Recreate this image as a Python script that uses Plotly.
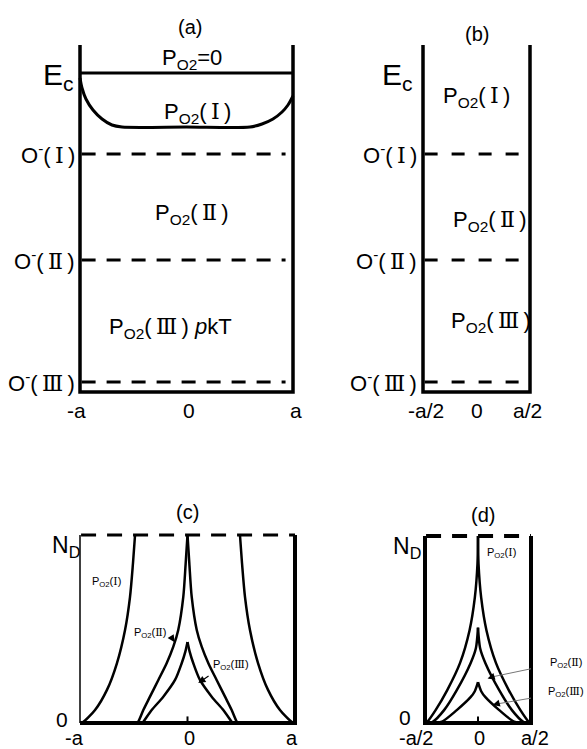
import plotly.graph_objects as go

W, H = 587, 749

# ---------------- data ----------------
# (a)/(b) band diagram, energies in arbitrary units (Ec = 0)
Ec = 0.0
wall_top = 0.28
wall_bottom = -3.19
level_labels = ["Ⅰ", "Ⅱ", "Ⅲ"]
level_E = [-0.81, -1.87, -3.09]

# (a) band bending for P_O2(I), x in units of a
bend_x = [-1.0, -0.981, -0.944, -0.878, -0.793, -0.700, -0.606, 0.0,
          0.596, 0.709, 0.812, 0.897, 0.953, 1.0]
bend_E = [-0.05, -0.15, -0.26, -0.37, -0.46, -0.52, -0.54, -0.54,
          -0.54, -0.51, -0.46, -0.39, -0.32, -0.23]

# (c) donor profiles, N/N_D vs x (units of a); left branches, mirrored to the right
c_I_x = [-1.0, -0.972, -0.860, -0.749, -0.656, -0.581, -0.535, -0.507, -0.488]
c_I_y = [0.0, 0.005, 0.069, 0.176, 0.319, 0.495, 0.670, 0.851, 1.0]
c_II_x = [-0.47, -0.458, -0.411, -0.349, -0.271, -0.194, -0.132, -0.086, -0.039, -0.017, 0.0]
c_II_y = [0.0, 0.007, 0.069, 0.14, 0.229, 0.318, 0.406, 0.495, 0.672, 0.849, 1.0]
c_III_x = [-0.42, -0.411, -0.333, -0.225, -0.116, -0.054, -0.02, 0.0]
c_III_y = [0.0, 0.006, 0.069, 0.14, 0.229, 0.318, 0.38, 0.431]

# (d) donor profiles
d_I_x = [-0.49, -0.48, -0.40, -0.29, -0.17, -0.08, -0.03, -0.005, 0.0]
d_I_y = [0.0, 0.005, 0.069, 0.176, 0.32, 0.495, 0.67, 0.85, 1.0]
d_II_x = [-0.46, -0.43, -0.32, -0.20, -0.07, -0.02, 0.0]
d_II_y = [0.0, 0.005, 0.069, 0.176, 0.32, 0.40, 0.51]
d_III_x = [-0.41, -0.34, -0.20, -0.07, -0.03, 0.0]
d_III_y = [0.0, 0.007, 0.069, 0.138, 0.17, 0.218]

x_ticks_full = ["-a", "0", "a"]
x_ticks_half = ["-a/2", "0", "a/2"]

# ---------------- helpers ----------------
FONT = "Arial, Liberation Sans, sans-serif"
SP = "\u2009"


def rn(s, sp=SP):
    return f'{sp}<span style="font-family:DejaVu Serif">{s}</span>{sp}'


def lin(v1, p1, v2, p2):
    return lambda p: v1 + (p - p1) * (v2 - v1) / (p2 - p1)


fig = go.Figure()

panels = {
    # name: (box px0, px1, py0, py1), xmap, ymap
    "a": ((0, 335, 0, 430), (-1, 80, 1, 293), (0.0, 73, -3.09, 382)),
    "b": ((335, 587, 0, 430), (-0.5, 423, 0.5, 530), (0.0, 73, -3.09, 382)),
    "c": ((0, 335, 480, 749), (-1, 80, 1, 295), (0.0, 723, 1.0, 535)),
    "d": ((335, 587, 480, 749), (-0.5, 425, 0.5, 531), (0.0, 723, 1.0, 536)),
}
refs = {}
for i, (k, (box, xm, ym)) in enumerate(panels.items()):
    n = "" if i == 0 else str(i + 1)
    px0, px1, py0, py1 = box
    fx = lin(*xm)
    fy = lin(*ym)
    fig.layout["xaxis" + n] = dict(domain=[px0 / W, px1 / W], range=[fx(px0), fx(px1)],
                                   visible=False, fixedrange=True, anchor="y" + n)
    fig.layout["yaxis" + n] = dict(domain=[1 - py1 / H, 1 - py0 / H], range=[fy(py1), fy(py0)],
                                   visible=False, fixedrange=True, anchor="x" + n)
    refs[k] = ("x" + n, "y" + n)


def line(panel, xs, ys, width=3, dash=None, color="black", shape="linear"):
    xr, yr = refs[panel]
    fig.add_trace(go.Scatter(x=xs, y=ys, mode="lines", xaxis=xr, yaxis=yr,
                             line=dict(color=color, width=width, dash=dash, shape=shape,
                                       smoothing=0.8),
                             hoverinfo="skip", showlegend=False))


def text(panel, x, y, s, size, xanchor="center", yanchor="middle"):
    xr, yr = refs[panel]
    fig.add_annotation(x=x, y=y, xref=xr, yref=yr, text=s, showarrow=False,
                       xanchor=xanchor, yanchor=yanchor,
                       font=dict(size=size, color="black", family=FONT))


def arrow(panel, x, y, ax, ay, color="black", width=1.2):
    xr, yr = refs[panel]
    fig.add_annotation(x=x, y=y, ax=ax, ay=ay, xref=xr, yref=yr, axref=xr, ayref=yr,
                       text="", showarrow=True, arrowhead=2, arrowsize=1.2,
                       arrowwidth=width, arrowcolor=color, standoff=0)


PO2 = "P<sub>O2</sub>"

# ---------------- (a) ----------------
line("a", [-1, -1, 1, 1], [wall_top, wall_bottom, wall_bottom, wall_top], width=3.5)
line("a", [-1, 1], [Ec, Ec], width=3)
line("a", bend_x, bend_E, width=3, shape="spline")
for lab, e in zip(level_labels, level_E):
    line("a", [-0.985, 0.93], [e, e], width=3, dash="14px,11px")
    text("a", -1.03, e, f"O<sup>-</sup>({rn(lab)})", 22, xanchor="right")
text("a", 0.03, 0.46, "(a)", 20)
text("a", -1.04, -0.03, "E<sub>c</sub>", 30, xanchor="right")
text("a", 0.05, 0.14, f"{PO2}=0", 22)
text("a", 0.1, -0.40, f"{PO2}({rn('Ⅰ')})", 22)
text("a", 0.05, -1.41, f"{PO2}({rn('Ⅱ')})", 22)
text("a", -0.15, -2.55, f"{PO2}({rn('Ⅲ')}) <i>p</i>kT", 22)
for t, xv in zip(x_ticks_full, [-1.03, 0.02, 1.03]):
    text("a", xv, -3.37, t, 21)

# ---------------- (b) ----------------
line("b", [-0.5, -0.5, 0.5, 0.5], [wall_top, wall_bottom, wall_bottom, wall_top], width=3.5)
for lab, e in zip(level_labels, level_E):
    line("b", [-0.485, 0.41], [e, e], width=3, dash="13px,14px")
    text("b", -0.54, e, f"O<sup>-</sup>({rn(lab)})", 22, xanchor="right")
text("b", 0.0, 0.39, "(b)", 20)
text("b", -0.575, -0.03, "E<sub>c</sub>", 30, xanchor="right")
text("b", 0.0, -0.24, f"{PO2}({rn('Ⅰ')})", 22)
text("b", 0.13, -1.48, f"{PO2}({rn('Ⅱ')})", 22)
text("b", 0.14, -2.49, f"{PO2}({rn('Ⅲ')})", 22)
for t, xv in zip(x_ticks_half, [-0.47, 0.0, 0.48]):
    text("b", xv, -3.37, t, 21)

# ---------------- (c) ----------------
line("c", [-1, -1], [0, 1], width=1.5)
line("c", [-1, 1, 1], [0, 0, 1], width=4)
line("c", [-0.99, 1], [1, 1], width=3, dash="15px,11px")
line("c", [0, 0], [0, 0.035], width=2)
for xs, ys in [(c_I_x, c_I_y), (c_II_x, c_II_y), (c_III_x, c_III_y)]:
    line("c", xs, ys, width=2.5, shape="spline")
    line("c", [-v for v in xs], ys, width=2.5, shape="spline")
text("c", 0.0, 1.12, "(c)", 20)
text("c", -0.98, 0.94, "N<sub>D</sub>", 23, xanchor="right")
text("c", -1.17, 0.02, "0", 21)
for t, xv in zip(x_ticks_full, [-1.05, 0.02, 0.97]):
    text("c", xv, -0.08, t, 20)
text("c", -0.75, 0.75, f"{PO2}({rn('Ⅰ', '')})", 11)
text("c", -0.35, 0.48, f"{PO2}({rn('Ⅱ', '')})", 11)
text("c", 0.40, 0.31, f"{PO2}({rn('Ⅲ', '')})", 11)
arrow("c", -0.12, 0.43, -0.16, 0.465)
arrow("c", 0.10, 0.213, 0.21, 0.255)

# ---------------- (d) ----------------
line("d", [-0.5, -0.5, 0.5, 0.5], [1, 0, 0, 1], width=4)
line("d", [-0.49, 0.5], [1, 1], width=4, dash="15px,11px")
line("d", [0, 0], [0, 0.035], width=2)
for xs, ys in [(d_I_x, d_I_y), (d_II_x, d_II_y), (d_III_x, d_III_y)]:
    line("d", xs, ys, width=2.5, shape="spline")
    line("d", [-v for v in xs], ys, width=2.5, shape="spline")
text("d", 0.05, 1.11, "(d)", 20)
text("d", -0.52, 0.94, "N<sub>D</sub>", 23, xanchor="right")
text("d", -0.69, 0.03, "0", 21)
for t, xv in zip(x_ticks_half, [-0.585, 0.01, 0.54]):
    text("d", xv, -0.08, t, 20)
text("d", 0.22, 0.91, f"{PO2}({rn('Ⅰ', '')})", 11)
text("d", 0.83, 0.32, f"{PO2}({rn('Ⅱ', '')})", 11)
text("d", 0.83, 0.165, f"{PO2}({rn('Ⅲ', '')})", 11)
line("d", [0.5, 0.12], [0.29, 0.245], width=1, color="#777")
line("d", [0.5, 0.16], [0.133, 0.1], width=1, color="#777")
arrow("d", 0.09, 0.238, 0.13, 0.245)
arrow("d", 0.138, 0.096, 0.17, 0.101)

fig.update_layout(width=W, height=H, margin=dict(l=0, r=0, t=0, b=0),
                  paper_bgcolor="white", plot_bgcolor="white",
                  font=dict(family=FONT, color="black"), showlegend=False)

fig.write_html("out.html")
